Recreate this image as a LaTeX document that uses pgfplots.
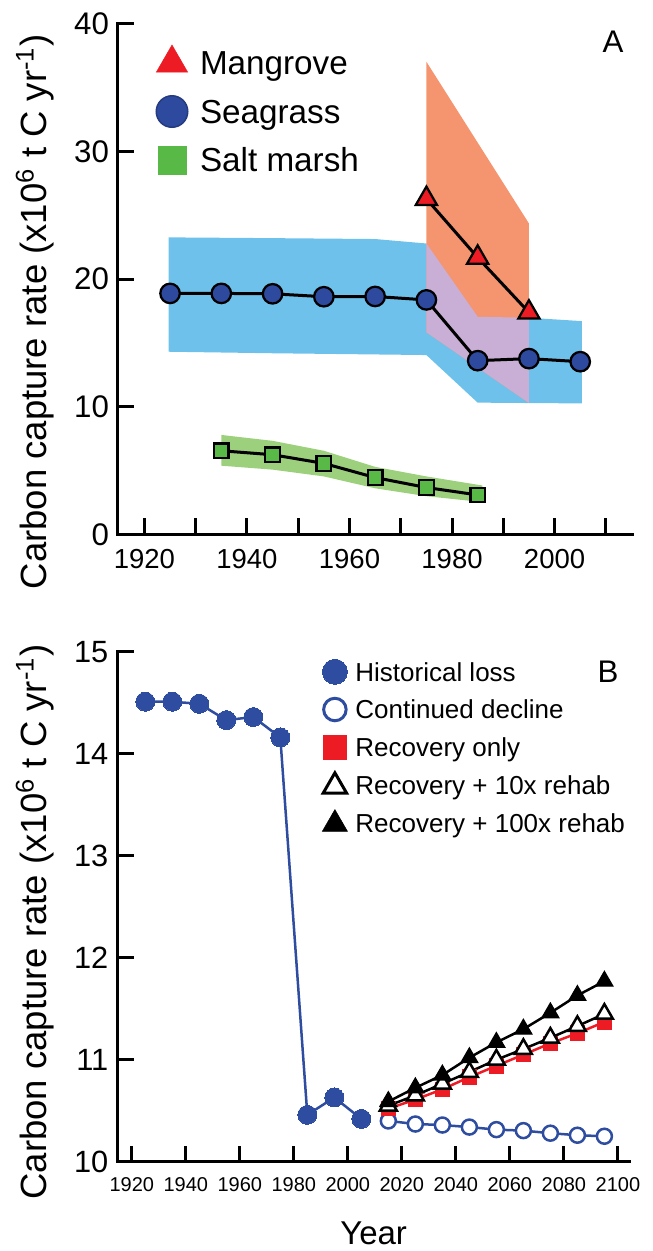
\documentclass[border=0pt]{standalone}
\usepackage{fontspec}
\setmainfont{Liberation Sans}
\usepackage{pgfplots}
\pgfplotsset{compat=1.18}

\definecolor{mred}{HTML}{ED1C24}
\definecolor{sblue}{HTML}{2E4A9F}
\definecolor{bblue}{HTML}{2E4DA0}
\definecolor{sgreen}{HTML}{58B947}
\definecolor{bandblue}{HTML}{6EC1EB}
\definecolor{bandorange}{HTML}{F4956F}
\definecolor{bandpurple}{HTML}{C9AED5}
\definecolor{bandgreen}{HTML}{9DD07C}

\pgfplotsset{
  myaxis/.style={
    scale only axis, axis lines*=left,
    axis line style={line width=1.2pt, line cap=rect},
    tick align=inside, major tick length=6.4pt,
    every tick/.style={black, line width=1.2pt},
    /pgf/number format/assume math mode=true,
    /pgf/number format/1000 sep={},
    enlargelimits=false, clip=false,
    legend cell align=left,
  }
}

\begin{document}
\begin{tikzpicture}
\useasboundingbox (0,0) rectangle (261.2pt,500.4pt);

% ---------------- Panel A ----------------
\begin{axis}[myaxis,
  at={(47.1pt,286.6pt)}, anchor=south west,
  width=205.7pt, height=204.2pt,
  xmin=1914.8, xmax=2015.1, ymin=0, ymax=40,
  xtick={1920,1930,...,2010},
  xticklabels={1920,,1940,,1960,,1980,,2000,},
  ytick={0,10,20,30,40},
  xticklabel style={inner sep=0pt, yshift=-5.6pt, font=\fontsize{11}{13}\selectfont},
  yticklabel style={inner sep=0pt, xshift=-3.3pt, font=\fontsize{12.5}{14}\selectfont},
  ylabel={Carbon capture rate (x10\textsuperscript{6} t C yr\textsuperscript{-1})},
  ylabel style={at={(axis description cs:-0.161,0.436)}, anchor=center, font=\fontsize{14.6}{16}\selectfont},
  legend style={at={(axis description cs:0.0666,0.9615)}, anchor=north west,
    draw=none, fill=none, inner sep=0pt, outer sep=0pt,
    row sep=4.9pt, column sep=0pt,
    font=\fontsize{13.3}{15}\selectfont,
    nodes={inner sep=0pt, text height=12.5pt, text depth=2pt, anchor=base west}},
]
% bands
\addplot[fill=bandblue, draw=none, forget plot] coordinates {
  (1924.7,23.28) (1945,23.22) (1965,23.15) (1975,22.8) (1985,17.06) (1995,16.98) (2005.3,16.72)
  (2005.3,10.27) (1995,10.3) (1985,10.33) (1975,14.06) (1945,14.2) (1924.7,14.32)} -- cycle;
\addplot[fill=bandorange, draw=none, forget plot] coordinates {
  (1975,37.04) (1995,24.37) (1995,10.3) (1975,15.84)} -- cycle;
\addplot[fill=bandpurple, draw=none, forget plot] coordinates {
  (1975,22.8) (1985,17.06) (1995,16.98) (1995,10.3) (1975,15.84)} -- cycle;
\addplot[fill=bandgreen, draw=none, forget plot] coordinates {
  (1935,7.8) (1945,7.34) (1955,6.56) (1965,5.3) (1975,4.55) (1985.9,3.84)
  (1985.9,2.54) (1975,3.0) (1965,3.62) (1955,4.55) (1945,5.08) (1935,5.39)} -- cycle;
% series
\addplot[black, line width=1.2pt, mark=square*, mark size=2.9pt,
  mark options={fill=sgreen, draw=black, line width=0.9pt}, forget plot] coordinates {
  (1935,6.56) (1945,6.25) (1955,5.57) (1965,4.46) (1975,3.68) (1985,3.10)};
\addplot[black, line width=1.2pt, mark=*, mark size=3.9pt,
  mark options={fill=sblue, draw=black, line width=0.9pt}, forget plot] coordinates {
  (1925,18.89) (1935,18.89) (1945,18.86) (1955,18.63) (1965,18.65) (1975,18.38)
  (1985,13.62) (1995,13.78) (2005,13.54)};
\addplot[black, line width=1.2pt, mark=triangle*, mark size=4.9pt,
  mark options={fill=mred, draw=black, line width=0.9pt}, forget plot] coordinates {
  (1975,26.3) (1985,21.7) (1995,17.4)};
% legend
\addlegendimage{legend image code/.code={\path[draw=none,fill=none] (0pt,0pt) -- (19.2pt,0pt);
  \path plot[only marks, mark=triangle*, mark size=7.2pt, mark options={fill=mred, draw=mred, line width=0.2pt}] coordinates {(8pt,4.75pt)};}}
\addlegendentry{Mangrove}
\addlegendimage{legend image code/.code={\path[draw=none,fill=none] (0pt,0pt) -- (19.2pt,0pt);
  \path plot[only marks, mark=*, mark size=6.3pt, mark options={fill=sblue, draw=sblue!80!black, line width=0.6pt}] coordinates {(8pt,4.75pt)};}}
\addlegendentry{Seagrass}
\addlegendimage{legend image code/.code={\path[draw=none,fill=none] (0pt,0pt) -- (19.2pt,0pt);
  \path plot[only marks, mark=square*, mark size=5.7pt, mark options={fill=sgreen, draw=sgreen, line width=0.2pt}] coordinates {(8pt,4.75pt)};}}
\addlegendentry{Salt marsh}
\node[font=\fontsize{12.5}{14}\selectfont] at (rel axis cs:0.963,0.9653) {A};
\end{axis}

% ---------------- Panel B ----------------
\begin{axis}[myaxis,
  at={(47.1pt,35.7pt)}, anchor=south west,
  width=204.7pt, height=204pt,
  xmin=1914.8, xmax=2104.3, ymin=10, ymax=15,
  xtick={1920,1940,...,2100},
  ytick={10,11,12,13,14,15},
  xticklabel style={inner sep=0pt, yshift=-6.3pt, font=\fontsize{8}{10}\selectfont},
  yticklabel style={inner sep=0pt, xshift=-3.6pt, font=\fontsize{12.3}{14}\selectfont},
  ylabel={Carbon capture rate (x10\textsuperscript{6} t C yr\textsuperscript{-1})},
  ylabel style={at={(axis description cs:-0.1616,0.47)}, anchor=center, font=\fontsize{14.6}{16}\selectfont},
  xlabel={Year},
  xlabel style={at={(axis description cs:0.5,-0.14)}, anchor=center, font=\fontsize{13.2}{15}\selectfont},
  legend style={at={(axis description cs:0.396,0.9935)}, anchor=north west,
    draw=none, fill=none, inner sep=0pt, outer sep=0pt,
    row sep=2.3pt, column sep=0pt,
    font=\fontsize{10.4}{12}\selectfont,
    nodes={inner sep=0pt, text height=10.4pt, text depth=2.4pt, anchor=base west}},
]
\addplot[bblue, line width=1pt, mark=*, mark size=3.8pt,
  mark options={fill=bblue, draw=bblue, line width=0pt}, forget plot] coordinates {
  (1925,14.51) (1935,14.51) (1945,14.49) (1955,14.33) (1965,14.36) (1975,14.16)
  (1985,10.46) (1995,10.63) (2005,10.42)};
\addplot[bblue, line width=1pt, mark=*, mark size=3.0pt,
  mark options={fill=white, draw=bblue, line width=1pt}, forget plot] coordinates {
  (2015,10.40) (2025,10.37) (2035,10.36) (2045,10.34) (2055,10.315) (2065,10.305)
  (2075,10.28) (2085,10.26) (2095,10.25)};
\addplot[mred, line width=1pt, mark=square*, mark size=2.9pt,
  mark options={fill=mred, draw=mred, line width=0pt}, forget plot] coordinates {
  (2015,10.52) (2025,10.61) (2035,10.71) (2045,10.83) (2055,10.94) (2065,11.05)
  (2075,11.16) (2085,11.26) (2095,11.37)};
\addplot[black, line width=1pt, mark=triangle*, mark size=3.9pt,
  mark options={fill=white, draw=black, line width=1pt}, forget plot] coordinates {
  (2015,10.55) (2025,10.65) (2035,10.765) (2045,10.88) (2055,11.0) (2065,11.105)
  (2075,11.215) (2085,11.33) (2095,11.45)};
\addplot[black, line width=1pt, mark=triangle*, mark size=3.9pt,
  mark options={fill=black, draw=black, line width=0.5pt}, forget plot] coordinates {
  (2015,10.59) (2025,10.725) (2035,10.85) (2045,11.02) (2055,11.17) (2065,11.30)
  (2075,11.46) (2085,11.63) (2095,11.77)};
% legend
\addlegendimage{legend image code/.code={\path[draw=none,fill=none] (0pt,0pt) -- (14pt,0pt);
  \path plot[only marks, mark=*, mark size=5pt, mark options={fill=bblue, draw=bblue, line width=0pt}] coordinates {(5.8pt,3.72pt)};}}
\addlegendentry{Historical loss}
\addlegendimage{legend image code/.code={\path[draw=none,fill=none] (0pt,0pt) -- (14pt,0pt);
  \path plot[only marks, mark=*, mark size=4.5pt, mark options={fill=white, draw=bblue, line width=1.2pt}] coordinates {(5.8pt,3.72pt)};}}
\addlegendentry{Continued decline}
\addlegendimage{legend image code/.code={\path[draw=none,fill=none] (0pt,0pt) -- (14pt,0pt);
  \path plot[only marks, mark=square*, mark size=4.7pt, mark options={fill=mred, draw=mred, line width=0pt}] coordinates {(5.8pt,3.72pt)};}}
\addlegendentry{Recovery only}
\addlegendimage{legend image code/.code={\path[draw=none,fill=none] (0pt,0pt) -- (14pt,0pt);
  \path plot[only marks, mark=triangle*, mark size=5.4pt, mark options={fill=white, draw=black, line width=1.2pt}] coordinates {(5.8pt,3.2pt)};}}
\addlegendentry{Recovery + 10x rehab}
\addlegendimage{legend image code/.code={\path[draw=none,fill=none] (0pt,0pt) -- (14pt,0pt);
  \path plot[only marks, mark=triangle*, mark size=5.8pt, mark options={fill=black, draw=black, line width=0.2pt}] coordinates {(5.8pt,3.2pt)};}}
\addlegendentry{Recovery + 100x rehab}
\node[font=\fontsize{12.5}{14}\selectfont] at (rel axis cs:0.958,0.960) {B};
\end{axis}
\end{tikzpicture}
\end{document}
